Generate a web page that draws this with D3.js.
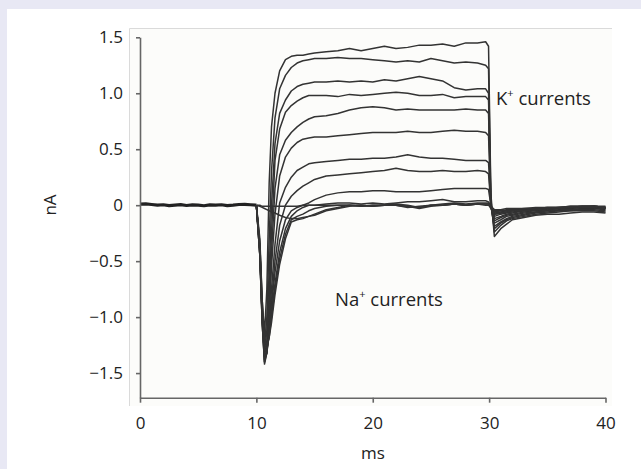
<!DOCTYPE html>
<html>
<head>
<meta charset="utf-8">
<script src="https://cdn.jsdelivr.net/npm/d3@7"></script>
<style>
  body { margin: 0; background: #e8e8f4; }
  svg { display: block; }
  text { font-family: "Open Sans", sans-serif; fill: #222; }
</style>
</head>
<body>
<svg id="chart" width="641" height="469"></svg>
<script>
// holding period before the step (0-10 ms), all sweeps overlap here
const baseline_times = [0, 0.5, 1, 1.5, 2, 2.5, 3, 3.5, 4, 4.5, 5, 5.5, 6, 6.5, 7, 7.5, 8, 8.5, 9, 9.5, 10]
const baseline_values = [0.01, 0.012, 0.006, 0.0, 0.004, -0.004, 0.0, 0.005, -0.003, 0.002, 0.0, -0.005, 0.003, 0.0, 0.004, -0.004, 0.0, 0.006, 0.008, 0.004, 0.0]

// step sweeps, sampled on a shared time grid (ms)
const step_times = [10, 10.3, 10.5, 10.7, 10.9, 11.1, 11.3, 11.6, 12, 12.5, 13, 13.5, 14, 14.5, 15,
  16, 17, 18, 19, 20, 21, 22, 23, 24, 25, 26, 27, 28, 29,
  29.7, 29.95, 30.15, 30.45, 31, 31.5, 32, 33, 34, 35, 36, 37, 38, 39, 40]

const sweep_1 = [0, -0.35, -0.85, -1.15, -0.75, 0.2, 0.7, 1.0, 1.2, 1.3, 1.33, 1.34, 1.34, 1.35, 1.36,
  1.37, 1.38, 1.40, 1.38, 1.40, 1.42, 1.40, 1.41, 1.43, 1.43, 1.44, 1.42, 1.45, 1.45,
  1.46, 1.42, 0.1, -0.28, -0.21, -0.17, -0.13, -0.11, -0.09, -0.08, -0.08, -0.07, -0.06, -0.06, -0.07]
const sweep_2 = [0, -0.4, -0.95, -1.25, -1.0, -0.3, 0.3, 0.78, 1.04, 1.16, 1.23, 1.27, 1.29, 1.30, 1.31,
  1.31, 1.32, 1.31, 1.31, 1.30, 1.29, 1.28, 1.29, 1.28, 1.31, 1.29, 1.27, 1.28, 1.27,
  1.25, 1.22, 0.05, -0.24, -0.18, -0.14, -0.12, -0.1, -0.08, -0.07, -0.06, -0.05, -0.05, -0.05, -0.06]
const sweep_3 = [0, -0.4, -1.0, -1.3, -1.12, -0.6, 0.0, 0.55, 0.82, 0.94, 1.02, 1.06, 1.08, 1.09, 1.10,
  1.10, 1.11, 1.10, 1.11, 1.10, 1.12, 1.11, 1.13, 1.15, 1.13, 1.11, 1.05, 1.03, 1.04,
  1.04, 1.0, 0.0, -0.21, -0.16, -0.13, -0.11, -0.09, -0.07, -0.06, -0.05, -0.05, -0.04, -0.04, -0.05]
const sweep_4 = [0, -0.4, -1.0, -1.35, -1.22, -0.78, -0.25, 0.4, 0.68, 0.83, 0.89, 0.93, 0.96, 0.98, 0.98,
  0.98, 0.97, 0.99, 0.98, 0.99, 1.0, 1.01, 1.0, 0.98, 0.98, 0.99, 0.96, 0.97, 0.97,
  0.97, 0.94, 0.0, -0.19, -0.15, -0.12, -0.1, -0.08, -0.06, -0.05, -0.05, -0.04, -0.04, -0.03, -0.04]
const sweep_5 = [0, -0.45, -1.05, -1.4, -1.27, -0.9, -0.42, 0.15, 0.45, 0.58, 0.65, 0.7, 0.74, 0.77, 0.79,
  0.80, 0.82, 0.85, 0.87, 0.88, 0.87, 0.85, 0.86, 0.85, 0.85, 0.85, 0.85, 0.86, 0.85,
  0.85, 0.82, 0.0, -0.16, -0.13, -0.1, -0.09, -0.07, -0.06, -0.05, -0.04, -0.04, -0.03, -0.03, -0.03]
const sweep_6 = [0, -0.45, -1.05, -1.42, -1.32, -1.0, -0.55, -0.08, 0.26, 0.43, 0.51, 0.56, 0.59, 0.60, 0.61,
  0.61, 0.62, 0.63, 0.64, 0.65, 0.65, 0.65, 0.66, 0.65, 0.65, 0.66, 0.67, 0.66, 0.66,
  0.65, 0.62, 0.0, -0.14, -0.11, -0.09, -0.08, -0.06, -0.05, -0.04, -0.03, -0.03, -0.02, -0.02, -0.03]
const sweep_7 = [0, -0.45, -1.05, -1.4, -1.32, -1.05, -0.75, -0.35, 0.02, 0.16, 0.25, 0.31, 0.34, 0.37, 0.38,
  0.39, 0.40, 0.41, 0.41, 0.42, 0.42, 0.43, 0.45, 0.43, 0.42, 0.42, 0.41, 0.40, 0.40,
  0.40, 0.38, 0.0, -0.12, -0.1, -0.08, -0.07, -0.05, -0.04, -0.04, -0.03, -0.02, -0.02, -0.01, -0.02]
const sweep_8 = [0, -0.45, -1.0, -1.38, -1.32, -1.1, -0.85, -0.5, -0.18, 0.0, 0.08, 0.13, 0.17, 0.2, 0.23,
  0.26, 0.27, 0.28, 0.29, 0.30, 0.31, 0.33, 0.31, 0.30, 0.30, 0.31, 0.30, 0.30, 0.31,
  0.30, 0.28, 0.0, -0.1, -0.08, -0.07, -0.06, -0.05, -0.04, -0.03, -0.03, -0.02, -0.02, -0.02, -0.03]
const sweep_9 = [0, -0.4, -1.0, -1.35, -1.32, -1.15, -0.9, -0.6, -0.32, -0.13, -0.05, -0.02, 0.0, 0.02, 0.05,
  0.09, 0.11, 0.12, 0.12, 0.13, 0.13, 0.12, 0.12, 0.12, 0.13, 0.14, 0.15, 0.15, 0.15,
  0.15, 0.14, 0.0, -0.08, -0.07, -0.06, -0.05, -0.04, -0.03, -0.03, -0.02, -0.02, -0.02, -0.01, -0.02]
const sweep_10 = [0, -0.4, -0.95, -1.3, -1.3, -1.15, -0.95, -0.7, -0.42, -0.21, -0.1, -0.05, -0.02, 0.0, 0.0,
  0.01, 0.02, 0.02, 0.01, 0.02, 0.01, 0.02, 0.03, 0.03, 0.04, 0.05, 0.03, 0.03, 0.04,
  0.04, 0.03, -0.01, -0.07, -0.06, -0.05, -0.05, -0.04, -0.03, -0.03, -0.02, -0.02, -0.01, -0.01, -0.02]
const sweep_11 = [0, -0.35, -0.9, -1.25, -1.28, -1.18, -1.0, -0.75, -0.48, -0.26, -0.13, -0.1, -0.08, -0.05, -0.03,
  -0.01, 0.0, 0.0, -0.01, 0.0, 0.0, 0.01, 0.0, -0.02, 0.0, 0.01, 0.02, 0.01, 0.02,
  0.02, 0.02, -0.02, -0.06, -0.05, -0.05, -0.04, -0.04, -0.03, -0.02, -0.02, -0.01, -0.01, -0.01, -0.02]
const sweep_12 = [0, -0.3, -0.85, -1.2, -1.25, -1.18, -1.05, -0.8, -0.53, -0.3, -0.15, -0.13, -0.12, -0.1, -0.08,
  -0.04, -0.02, 0.0, 0.0, -0.01, 0.0, 0.0, -0.01, -0.03, -0.01, 0.0, 0.01, 0.0, 0.01,
  0.01, 0.01, -0.03, -0.08, -0.07, -0.06, -0.05, -0.05, -0.04, -0.03, -0.03, -0.02, -0.02, -0.02, -0.03]
// small steps with no sodium current
const sweep_13 = [0, -0.01, -0.02, -0.03, -0.04, -0.05, -0.06, -0.07, -0.09, -0.11, -0.12, -0.12, -0.11, -0.1, -0.09,
  -0.05, -0.03, -0.01, 0.0, -0.01, 0.0, 0.0, -0.02, -0.01, 0.0, 0.0, 0.01, 0.0, 0.01,
  0.0, 0.0, -0.02, -0.05, -0.05, -0.04, -0.04, -0.03, -0.03, -0.02, -0.02, -0.02, -0.01, -0.01, -0.02]
const sweep_14 = [0, 0, -0.01, -0.01, -0.01, -0.01, -0.01, -0.01, -0.01, -0.01, -0.01, -0.01, 0.0, 0.0, 0.0,
  0.0, 0.0, 0.0, -0.01, 0.0, 0.0, 0.0, -0.01, -0.02, 0.0, 0.0, 0.01, 0.0, 0.01,
  0.01, 0.01, -0.01, -0.04, -0.04, -0.03, -0.03, -0.03, -0.02, -0.02, -0.02, -0.01, -0.01, -0.01, -0.01]

const sweeps = [sweep_1, sweep_2, sweep_3, sweep_4, sweep_5, sweep_6, sweep_7,
  sweep_8, sweep_9, sweep_10, sweep_11, sweep_12, sweep_13, sweep_14]

const x_ticks = [0, 10, 20, 30, 40]
const y_ticks = [-1.5, -1, -0.5, 0, 0.5, 1, 1.5]
const y_tick_labels = ['\u22121.5', '\u22121.0', '\u22120.5', '0', '0.5', '1.0', '1.5']

const svg = d3.select('#chart')

// white card + scanned figure area
svg.append('rect')
  .attr('x', 7).attr('y', 9)
  .attr('width', 634).attr('height', 460)
  .attr('fill', '#ffffff')
svg.append('rect')
  .attr('x', 129).attr('y', 28)
  .attr('width', 483).attr('height', 378)
  .attr('fill', '#fcfcfa')
svg.append('path')
  .attr('d', 'M129.5,406V28.5H612')
  .attr('fill', 'none')
  .attr('stroke', '#dadada')

const x = d3.scaleLinear().domain([0, 40]).range([140, 605.5])
const y = d3.scaleLinear().domain([-1.72, 1.5]).range([397.7, 37.3])

const line = d3.line()
  .x(d => x(d[0]))
  .y(d => y(d[1]))

const traces = svg.append('g')

traces.append('path')
  .datum(d3.zip(baseline_times, baseline_values))
  .attr('d', line)
  .attr('fill', 'none')
  .attr('stroke', '#222')
  .attr('stroke-width', 3.2)
  .attr('stroke-linejoin', 'round')

traces.selectAll('.sweep')
  .data(sweeps)
  .enter()
  .append('path')
  .attr('class', 'sweep')
  .attr('d', s => line(d3.zip(step_times, s)))
  .attr('fill', 'none')
  .attr('stroke', '#333')
  .attr('stroke-width', 1.5)
  .attr('stroke-linejoin', 'round')

const y_axis = svg.append('g')
  .attr('transform', 'translate(140,0)')
  .call(d3.axisLeft(y)
    .tickValues(y_ticks)
    .tickFormat((d, i) => y_tick_labels[i])
    .tickSize(4)
    .tickPadding(13)
    .tickSizeOuter(0))

const x_axis = svg.append('g')
  .attr('transform', 'translate(0,397.7)')
  .call(d3.axisBottom(x)
    .tickValues(x_ticks)
    .tickSize(5)
    .tickPadding(14)
    .tickSizeOuter(0))

svg.selectAll('.domain, .tick line')
  .attr('stroke', '#666')
  .attr('stroke-width', 1.6)
svg.selectAll('.tick text')
  .attr('font-family', '"Open Sans", sans-serif')
  .attr('font-size', 17)
  .attr('fill', '#222')

svg.append('text')
  .attr('x', 373).attr('y', 459)
  .attr('text-anchor', 'middle')
  .attr('font-size', 17)
  .text('ms')

svg.append('text')
  .attr('transform', 'translate(56,205) rotate(-90)')
  .attr('text-anchor', 'middle')
  .attr('font-size', 17)
  .text('nA')

function ion_label(px, py, ion) {
  const t = svg.append('text')
    .attr('x', px).attr('y', py)
    .attr('font-size', 18.5)
  t.append('tspan').text(ion)
  t.append('tspan').attr('font-size', 11).attr('dy', -8).text('+')
  t.append('tspan').attr('dy', 8).text(' currents')
}

ion_label(496, 105, 'K')
ion_label(335, 306, 'Na')
</script>
</body>
</html>
